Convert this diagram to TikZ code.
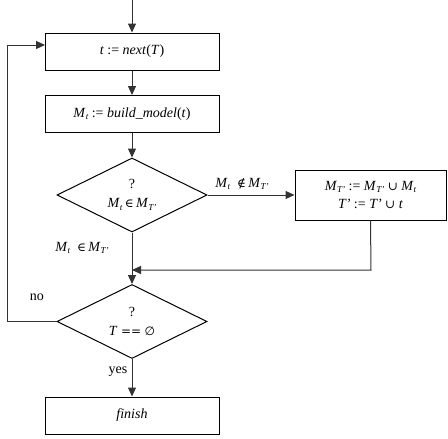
\documentclass[tikz,border=0pt]{standalone}
\usepackage{fontspec}
\setmainfont{Liberation Serif}
\newfontfamily\symfnt{DejaVu Serif}
\newfontfamily\symsans{DejaVu Sans}
\usetikzlibrary{shapes.geometric,arrows.meta}
\newcommand{\sbs}[1]{\raisebox{-0.35ex}{\fontsize{9}{9}\selectfont\itshape #1}}
\newcommand{\sy}[1]{{\symfnt\upshape\fontsize{12}{14}\selectfont #1}}
\newcommand{\MT}{\textit{M}\sbs{T'}}
\newcommand{\Mt}{\textit{M}\sbs{t}}
\begin{document}
\begin{tikzpicture}[x=1pt,y=-1pt,
  txt/.style={font=\fontsize{14}{18}\selectfont},
  box/.style={draw,line width=1pt,minimum width=174pt,minimum height=37pt,inner sep=0pt,txt},
  dec/.style={draw,line width=1pt,diamond,aspect=2.03,minimum width=150pt,minimum height=74pt,inner sep=0pt,txt,align=center},
  conn/.style={line width=1pt,draw=black!80},
  arr/.style={conn,-{Triangle[length=9pt,width=8pt]}},
  lbl/.style={txt}]
\useasboundingbox (0,0) rectangle (448,439);
\coordinate (start) at (132,0);
\node[box] (b1) at (132,51.5) {\textit{t} := \textit{next}(\textit{T})};
\node[box] (b2) at (132,114) {\Mt\ := \textit{build\_model}(\textit{t})};
\node[dec] (d1) at (132,195) {?\\[1pt]\Mt\,\sy{∈}\,\MT};
\node[box,minimum width=151pt,minimum height=50pt,align=center] (b3) at (370.5,195) {\MT\ := \MT\ \sy{∪} \Mt\\\textit{T'} := \textit{T'} \sy{∪} \textit{t}};
\node[dec] (d2) at (132,321.5) {?\\[1pt]\textit{T} \sy{==} {\symsans\fontsize{12}{14}\selectfont ∅}};
\node[box] (b4) at (132,415.5) {\itshape finish};
\coordinate (j) at (132,270);
\coordinate (c1) at (371,270);
\coordinate (n1) at (7,321.5);
\coordinate (n2) at (7,45);
\coordinate (n3) at (45,45);
\draw[arr] (start) -- (b1.north);
\draw[arr] (b1.south) -- (b2.north);
\draw[arr] (b2.south) -- (d1.north);
\draw[arr] (d1.east) -- (b3.west);
\node[lbl] (l2) at (242,184) {\Mt\ \ \sy{∉}\,\MT};
\draw[arr] (b3.south) -- (c1) -- (j);
\draw[arr] (d1.south) -- (d2.north);
\node[lbl] (l1) at (82,248) {\Mt\ \ \sy{∈}\,\MT};
\draw[arr] (d2.west) -- (n1) -- (n2) -- (n3);
\node[lbl] (lno) at (37,297) {no};
\draw[arr] (d2.south) -- (b4.north);
\node[lbl] (lyes) at (118,372) {yes};
\end{tikzpicture}
\end{document}
